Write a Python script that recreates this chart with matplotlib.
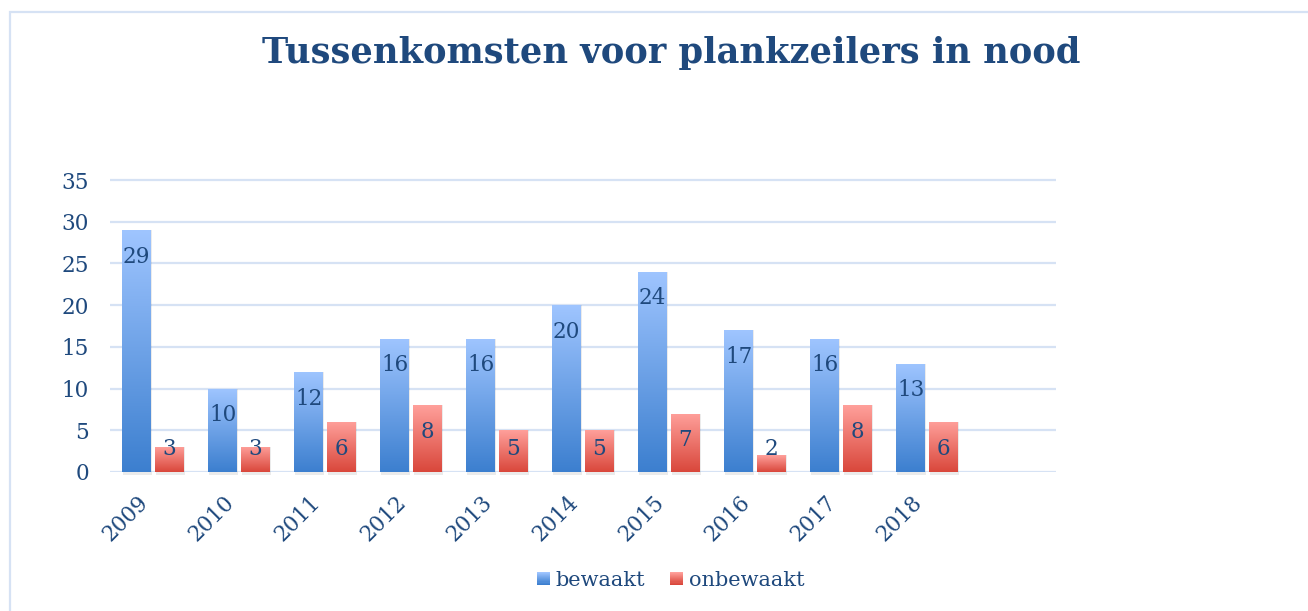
import numpy as np
import matplotlib as mpl
import matplotlib.pyplot as plt
from matplotlib.patches import Rectangle
from matplotlib.colors import LinearSegmentedColormap
from matplotlib.legend_handler import HandlerBase

# data
years = ['2009', '2010', '2011', '2012', '2013', '2014', '2015', '2016', '2017', '2018']
bewaakt = [29, 10, 12, 16, 16, 20, 24, 17, 16, 13]
onbewaakt = [3, 3, 6, 8, 5, 5, 7, 2, 8, 6]
series_names = ['bewaakt', 'onbewaakt']
title = 'Tussenkomsten voor plankzeilers in nood'

TEXTCOLOR = '#1F497D'
GRIDCOLOR = '#D6E2F4'
BLUE = ('#3C7FCF', '#9FC5FF')   # bottom, top
RED = ('#D9473B', '#FFA09B')

plt.rc('font', family='DejaVu Serif', size=15)

cmaps = [LinearSegmentedColormap.from_list('b', BLUE),
         LinearSegmentedColormap.from_list('r', RED)]


class GradientHandler(HandlerBase):
    def __init__(self, cmap):
        super().__init__()
        self.cmap = cmap

    def create_artists(self, legend, orig_handle, xdescent, ydescent,
                       width, height, fontsize, trans):
        side = height * 0.9
        x0 = -xdescent + width - side
        y0 = -ydescent + (height - side) / 2
        n = 12
        arts = []
        for i in range(n):
            arts.append(Rectangle((x0, y0 + side * i / n), side, side / n + 0.1,
                                  facecolor=self.cmap(i / (n - 1)),
                                  edgecolor='none', transform=trans))
        return arts


fig = plt.figure(figsize=(13.08, 6.11), dpi=100)

# outer frame (only left and top edges visible)
fig.patches.append(Rectangle((10 / 1308, -0.1), 5, 1.1 - 12 / 611,
                             transform=fig.transFigure, fill=False,
                             edgecolor=GRIDCOLOR, linewidth=1.6))

ax = fig.add_axes([110 / 1308, 1 - 472 / 611, 946 / 1308, 0.4915])

x = np.arange(len(years))
w = 0.33
off = 0.19
ymax = 36

handles = []
for k, (vals, cmap) in enumerate(zip([bewaakt, onbewaakt], cmaps)):
    pos = x + (-off if k == 0 else off)
    bars = ax.bar(pos, vals, w, color='none', edgecolor='none', zorder=3,
                  label=series_names[k])
    handles.append(bars)
    grad = np.linspace(0, 1, 256).reshape(-1, 1)
    for b, v in zip(bars, vals):
        bx, by = b.get_x(), b.get_y()
        bw, bh = b.get_width(), b.get_height()
        # soft shadow
        ax.add_patch(Rectangle((bx + 0.005, by - 0.3), bw + 0.01, bh + 0.3,
                               facecolor='#000000', alpha=0.08,
                               edgecolor='none', zorder=2, clip_on=False))
        im = ax.imshow(grad, cmap=cmap, origin='lower', aspect='auto',
                       extent=(bx, bx + bw, by, by + bh), zorder=3)
        im.set_clip_path(b)
        ly = max(v - 3.2, 2.75)
        ax.text(b.get_x() + bw / 2, ly, str(v), ha='center', va='center',
                color=TEXTCOLOR, fontsize=15.5, zorder=4)

ax.set_xlim(-0.5, len(years) + 0.5)
ax.set_ylim(0, ymax)
ax.set_yticks(np.arange(0, 36, 5))
ax.set_xticks(x)
ax.set_xticklabels(years, rotation=45, ha='right', va='top')
ax.tick_params(axis='both', length=0, colors=TEXTCOLOR, labelsize=15.5)
ax.tick_params(axis='y', pad=15)
ax.tick_params(axis='x', pad=14)
for s in ax.spines.values():
    s.set_visible(False)
ax.set_axisbelow(True)
ax.yaxis.grid(True, color=GRIDCOLOR, linewidth=1.6)
ax.set_facecolor('none')

fig.text(0.513, 1 - 53 / 611, title, ha='center', va='center',
         fontsize=25.4, fontweight='bold', color=TEXTCOLOR)

leg = fig.legend(handles, series_names, loc='center',
                 bbox_to_anchor=(670 / 1308, 1 - 580 / 611), ncol=2,
                 frameon=False, fontsize=15, handlelength=0.7,
                 handletextpad=0.3, columnspacing=1.1,
                 handler_map={handles[0]: GradientHandler(cmaps[0]),
                              handles[1]: GradientHandler(cmaps[1])})
for t in leg.get_texts():
    t.set_color(TEXTCOLOR)

fig.savefig('out.png', dpi=100)
